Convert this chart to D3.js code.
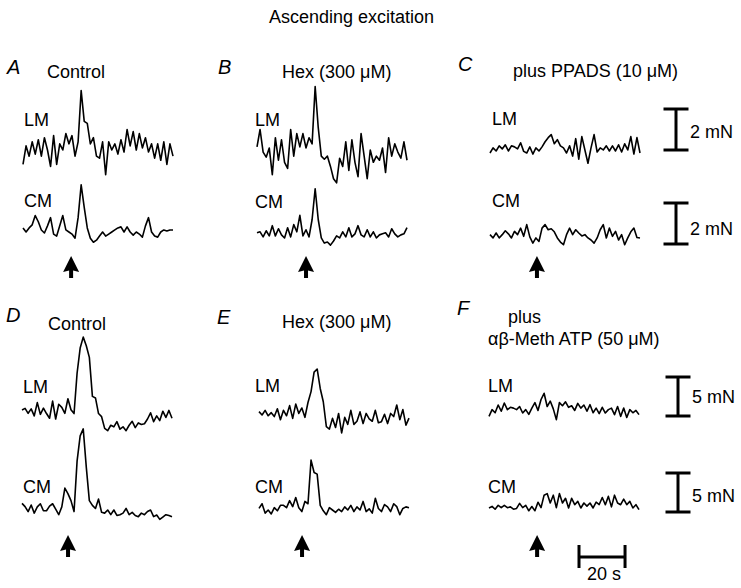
<!DOCTYPE html>
<html>
<head>
<meta charset="utf-8">
<script src="https://cdn.jsdelivr.net/npm/d3@7"></script>
<style>
body { margin: 0; background: #fff; }
text { font-family: "Liberation Sans", Arial, sans-serif; fill: #000; }
</style>
</head>
<body>
<svg></svg>
<script>
// panel letters and titles
var letters = ["A", "B", "C", "D", "E", "F"];
var titles = [["Control"], ["Hex (300 \u03bcM)"], ["plus PPADS (10 \u03bcM)"],
              ["Control"], ["Hex (300 \u03bcM)"], ["plus", "\u03b1\u03b2-Meth ATP (50 \u03bcM)"]];
var traceNames = ["LM", "CM"];

// stimulus time (s) for each panel, sample interval (s)
var stimTimes = [20.9, 21.3, 20.4, 20.0, 18.7, 20.9];
var dt = 1.33;

// tension traces, mN relative to resting level
var aLM = [-0.7,0.2,-0.3,0.4,-0.2,0.5,-0.3,0.6,0.0,-0.8,0.7,-0.7,0.3,0.0,0.8,0.3,0.7,-0.3,0.4,2.9,
           1.4,1.3,0.3,0.6,-0.3,-0.4,0.4,-1.2,0.4,0.0,0.3,-0.2,0.5,-0.1,1.0,0.2,0.9,0.0,0.8,0.1,
           0.6,-0.1,0.3,-0.4,0.3,-0.5,0.4,-0.7,0.3,-0.3];
var aCM = [0.2,0.0,0.2,0.35,0.8,0.5,0.1,-0.05,0.3,0.7,-0.1,-0.2,0.3,0.8,0.1,0.0,-0.1,-0.3,0.7,2.3,
           1.2,0.2,-0.3,-0.5,-0.4,-0.2,0.0,-0.2,-0.1,0.0,0.1,0.2,0.25,0.0,0.25,0.0,-0.15,0.0,-0.1,-0.25,
           0.3,0.7,0.0,-0.2,-0.25,0.0,0.1,0.05,0.1,0.1];
var bLM = [0.15,1.0,-0.1,-0.35,0.1,-1.2,0.6,-0.5,0.5,-0.6,-0.9,1.0,-0.3,0.8,0.15,0.8,0.1,0.6,0.3,3.1,
           1.1,-0.3,-0.45,-0.3,-0.8,-1.4,-1.6,-0.4,-0.8,0.4,-1.0,0.5,-0.6,-1.3,0.8,-0.3,-1.4,0.0,-0.6,-0.3,
           -0.5,0.1,-1.1,0.6,-0.3,0.3,-0.1,-0.4,0.4,-0.5];
var bCM = [0.35,0.4,0.15,0.45,0.2,0.7,0.2,0.55,0.25,0.1,0.6,0.15,0.75,0.4,1.2,0.2,0.5,0.15,1.0,2.5,
           1.0,0.1,-0.15,-0.1,-0.25,-0.05,0.2,0.1,0.4,0.15,0.6,0.15,0.3,0.7,0.25,0.15,0.5,0.15,0.4,0.1,
           0.25,0.3,0.35,0.15,0.55,0.3,0.15,0.25,0.3,0.6];
var cLM = [-0.05,0.2,0.05,0.3,0.15,0.35,0.05,0.3,0.25,0.15,0.45,0.03,-0.05,0.25,-0.1,0.2,0.05,0.25,0.5,0.7,
           0.85,0.4,0.6,0.3,0.2,-0.05,0.3,-0.2,0.65,-0.35,0.75,0.1,-0.55,0.2,0.85,0.0,0.2,0.1,0.3,0.05,
           0.3,0.05,0.35,0.0,0.4,0.1,0.75,-0.1,0.7,-0.05];
var cCM = [0.26,0.1,0.34,0.1,0.26,0.45,0.3,0.1,0.42,0.26,0.58,0.18,0.75,0.15,-0.15,0.1,-0.07,0.58,0.75,0.5,
           0.55,0.4,0.1,-0.1,-0.23,0.26,0.58,0.26,0.5,0.34,0.2,0.26,0.1,0.0,-0.15,0.1,0.5,0.75,0.1,0.58,
           0.18,0.42,0.0,0.26,-0.23,0.1,0.4,0.58,0.12,0.1];
var dLM = [0.26,0.47,-0.17,0.4,-0.5,1.2,-0.3,0.5,-0.2,-0.8,1.4,-0.9,1.0,0.6,-0.17,1.7,0.3,-0.2,5.0,8.2,
           9.6,8.5,7.0,2.0,1.8,-0.2,-0.6,-2.1,-2.4,-1.7,-1.9,-1.24,-2.2,-1.9,-2.4,-1.7,-1.2,-2.0,-1.4,-1.6,
           -1.5,-0.9,-0.1,-1.24,-0.5,-1.1,0.1,-0.7,0.2,-0.8];
var dCM = [0.85,0.43,-0.21,0.64,-0.4,0.4,0.8,-0.1,-0.1,0.5,0.8,0.1,-0.6,0.4,2.8,2.1,1.2,-0.2,6.3,9.5,
           10.4,5.5,1.2,0.6,0.2,1.4,-0.3,-0.4,0.0,-0.6,0.0,-0.7,-0.6,-0.4,0.2,-0.6,-0.3,-0.7,-0.85,-0.4,
           -0.6,-0.2,0.0,-0.85,-0.64,-1.2,-0.9,-0.6,-0.7,-0.85];
var eLM = [0.43,0.0,0.6,-0.1,0.3,-0.2,0.8,-0.6,0.6,-0.1,1.2,-0.43,1.4,0.2,0.9,-0.3,1.6,3.0,5.5,5.9,
           3.4,1.7,-1.5,-1.8,-0.43,-1.6,0.2,-2.3,-0.3,-1.2,0.6,-1.2,-0.8,0.4,-1.1,0.2,-0.5,-0.8,0.6,-1.0,
           -0.85,0.1,-1.1,0.2,-0.2,1.28,-0.6,0.7,-1.3,-0.4];
var eCM = [0.21,0.8,-0.4,0.0,-0.5,0.3,-0.1,0.6,0.6,0.3,1.2,0.43,1.6,0.3,-0.2,1.1,0.8,6.4,4.8,4.6,
           0.6,-0.1,-0.6,0.3,0.0,-0.3,0.1,-0.2,0.4,0.0,0.6,-0.2,0.4,0.0,1.1,-0.2,0.15,-0.4,1.5,0.2,
           -0.2,0.7,0.4,-0.2,0.8,0.43,-0.6,0.2,0.4,0.3];
var fLM = [-0.56,0.3,-0.1,0.9,0.1,1.15,0.3,0.6,0.5,0.3,0.7,-0.13,0.3,-0.3,0.5,1.2,0.2,1.6,2.4,0.7,
           1.4,0.4,-0.98,1.2,0.8,1.3,0.6,0.8,0.2,1.1,0.5,0.9,0.1,0.94,-0.1,0.5,-0.2,0.6,-0.13,0.3,
           0.5,-0.34,0.7,-0.56,0.5,-0.7,0.3,-0.1,0.2,-0.34];
var fCM = [0.26,0.47,0.1,0.6,0.3,0.6,0.3,0.4,0.1,0.2,0.85,0.3,0.6,-0.1,0.45,-0.1,1.0,0.3,1.9,2.1,
           0.9,1.9,0.3,2.1,0.9,1.5,0.26,1.5,0.68,1.1,0.26,0.9,0.5,0.9,0.26,1.0,0.7,1.6,0.68,1.75,
           0.4,1.9,0.9,0.68,1.4,0.68,1.1,0.26,0.68,0.04];
var traces = [[aLM, aCM], [bLM, bCM], [cLM, cCM], [dLM, dCM], [eLM, eCM], [fLM, fCM]];

// calibration bars: mN per row, seconds
var forceBars = [2, 5];
var timeBar = 20;

var width = 741, height = 588;
var svg = d3.select("svg").attr("width", width).attr("height", height);

// layout of each panel (pixels)
var panels = [
  {row: 0, x0: 23,  base: [150, 232], letter: [7, 74],   title: [[47, 78]],  lab: [[24, 126], [24, 207]]},
  {row: 0, x0: 257, base: [150, 240], letter: [218, 74], title: [[282, 78]], lab: [[255, 126], [255, 208]]},
  {row: 0, x0: 490, base: [152, 240], letter: [458, 71], title: [[513, 77]], lab: [[492, 125], [492, 207]]},
  {row: 1, x0: 22,  base: [412, 510], letter: [6, 322],  title: [[48, 330]], lab: [[23, 393], [23, 493]]},
  {row: 1, x0: 259, base: [415, 510], letter: [217, 324], title: [[282, 328]], lab: [[255, 392], [255, 493]]},
  {row: 1, x0: 489, base: [412, 510], letter: [457, 315], title: [[508, 323], [488, 345]], lab: [[488, 392], [488, 493]]}
];
var pxPerMN = [20.5, 7.8];
var traceWidth = 150;
var arrowTip = [256, 535];

svg.append("text")
  .attr("x", 269).attr("y", 23)
  .style("font-size", "18px")
  .text("Ascending excitation");

panels.forEach(function(p, k) {
  var g = svg.append("g");
  var x = d3.scaleLinear().domain([0, 49 * dt]).range([p.x0, p.x0 + traceWidth]);

  g.append("text")
    .attr("x", p.letter[0]).attr("y", p.letter[1])
    .style("font-size", "20px").style("font-style", "italic")
    .text(letters[k]);

  titles[k].forEach(function(t, j) {
    g.append("text")
      .attr("x", p.title[j][0]).attr("y", p.title[j][1])
      .style("font-size", "18px")
      .text(t);
  });

  traces[k].forEach(function(vals, j) {
    var y = d3.scaleLinear().domain([0, 1]).range([p.base[j], p.base[j] - pxPerMN[p.row]]);
    var line = d3.line()
      .x(function(d, i) { return x(i * dt); })
      .y(function(d) { return y(d); });

    g.append("path")
      .datum(vals)
      .attr("d", line)
      .attr("fill", "none")
      .attr("stroke", "#000")
      .attr("stroke-width", 1.6)
      .attr("stroke-linejoin", "round");

    g.append("text")
      .attr("x", p.lab[j][0]).attr("y", p.lab[j][1])
      .style("font-size", "18px")
      .text(traceNames[j]);
  });

  // stimulus arrow
  var ax = x(stimTimes[k]), ty = arrowTip[p.row];
  g.append("path")
    .attr("d", "M" + ax + "," + ty + "L" + (ax + 8) + "," + (ty + 16) +
               "L" + ax + "," + (ty + 14) +
               "L" + (ax - 8) + "," + (ty + 16) + "Z")
    .attr("fill", "#000");
  g.append("rect")
    .attr("x", ax - 2).attr("y", ty + 12)
    .attr("width", 4).attr("height", 10)
    .attr("fill", "#000");
});

// force calibration bars beside C and F
var barSpecs = [
  {x: 676, tops: [109, 203], labY: [138, 235], row: 0},
  {x: 678, tops: [377, 473], labY: [403, 502], row: 1}
];
barSpecs.forEach(function(b) {
  var v = forceBars[b.row];
  b.tops.forEach(function(top, j) {
    var y = d3.scaleLinear().domain([0, v]).range([top, top + v * pxPerMN[b.row]]);
    var bg = svg.append("g").attr("stroke", "#000").attr("stroke-width", 3);
    bg.append("line").attr("x1", b.x).attr("x2", b.x).attr("y1", y(0)).attr("y2", y(v));
    bg.append("line").attr("x1", b.x - 12.5).attr("x2", b.x + 12.5).attr("y1", y(0)).attr("y2", y(0));
    bg.append("line").attr("x1", b.x - 12.5).attr("x2", b.x + 12.5).attr("y1", y(v)).attr("y2", y(v));
    svg.append("text")
      .attr("x", b.x + 14).attr("y", b.labY[j])
      .style("font-size", "18px")
      .text(v + " mN");
  });
});

// time calibration bar
var xt = d3.scaleLinear().domain([0, 49 * dt]).range([489, 489 + traceWidth]);
var tx0 = 579, tx1 = tx0 + xt(timeBar) - xt(0);
var tg = svg.append("g").attr("stroke", "#000").attr("stroke-width", 3);
tg.append("line").attr("x1", tx0).attr("x2", tx1).attr("y1", 557).attr("y2", 557);
tg.append("line").attr("x1", tx0).attr("x2", tx0).attr("y1", 545).attr("y2", 568);
tg.append("line").attr("x1", tx1).attr("x2", tx1).attr("y1", 545).attr("y2", 568);
svg.append("text")
  .attr("x", tx0 + 8).attr("y", 580)
  .style("font-size", "18px")
  .text(timeBar + " s");
</script>
</body>
</html>
